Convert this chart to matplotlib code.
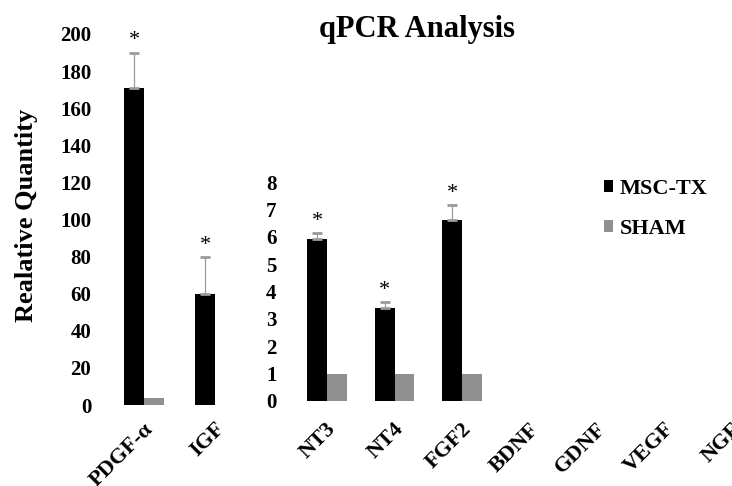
import matplotlib
matplotlib.use("Agg")
import matplotlib.pyplot as plt
import matplotlib.transforms as mtransforms
from matplotlib.patches import Patch
import numpy as np

# growth factor panel on the 0-200 scale
LEFT_GENES = ["PDGF-α", "IGF"]
LEFT_MSC = [171, 60]
LEFT_SHAM = [4, 0]
LEFT_ERR = [19, 20]
LEFT_SIG = [True, True]
LEFT_TICKS = list(range(0, 201, 20))

# neurotrophic factor panel on the 0-8 scale
RIGHT_GENES = ["NT3", "NT4", "FGF2", "BDNF", "GDNF", "VEGF", "NGF"]
RIGHT_MSC = [5.9, 3.4, 6.6, 0, 0, 0, 0]
RIGHT_SHAM = [1, 1, 1, 0, 0, 0, 0]
RIGHT_ERR = [0.25, 0.2, 0.55, 0, 0, 0, 0]
RIGHT_SIG = [True, True, True, False, False, False, False]
RIGHT_TICKS = list(range(0, 9))

SERIES = ["MSC-TX", "SHAM"]
BLACK = "#000000"
GRAY = "#8f8f8f"

FIG_W, FIG_H = 732, 486

plt.rcParams["font.family"] = ["Liberation Serif", "DejaVu Serif"]
plt.rcParams["font.weight"] = "bold"


def rect(x0, y_top, x1, y_bottom):
    # pixel box -> figure fraction [left, bottom, width, height]
    return [x0 / FIG_W, 1 - y_bottom / FIG_H, (x1 - x0) / FIG_W, (y_bottom - y_top) / FIG_H]


def draw_panel(ax, genes, msc, sham, err, sig, ticks, width, label_pad):
    x = np.arange(len(genes))
    msc = np.array(msc, dtype=float)
    err = np.array(err, dtype=float)

    ax.bar(x - width / 2, msc, width, color=BLACK, zorder=2)
    ax.bar(x + width / 2, sham, width, color=GRAY, zorder=2)

    has_err = err > 0
    eb = ax.errorbar(x[has_err] - width / 2, msc[has_err],
                     yerr=[np.zeros(has_err.sum()), err[has_err]],
                     fmt="none", ecolor="#9a9a9a", elinewidth=0.9,
                     capsize=3.5, capthick=2, zorder=3)
    for cap in eb[1]:
        cap.set_color(BLACK)

    for xi, m, e, s in zip(x, msc, err, sig):
        if s:
            ax.annotate("*", (xi - width / 2, m + e), xytext=(0, 1.5),
                        textcoords="offset points", ha="center", va="bottom",
                        fontsize=16, fontweight="normal")

    ax.set_ylim(ticks[0], ticks[-1])
    ax.set_yticks(ticks)
    ax.set_xticks(x)
    ax.set_xticklabels(genes, rotation=45, ha="right", rotation_mode="anchor")
    ax.tick_params(axis="y", length=0, pad=12, labelsize=15)
    ax.tick_params(axis="x", length=0, pad=label_pad, labelsize=16)

    shift = mtransforms.ScaledTranslation(-1 / 100, 0, ax.figure.dpi_scale_trans)
    for lbl in ax.get_xticklabels():
        lbl.set_transform(lbl.get_transform() + shift)

    for sp in ax.spines.values():
        sp.set_visible(False)
    ax.patch.set_visible(False)


fig = plt.figure(figsize=(FIG_W / 100, FIG_H / 100), dpi=100)

ax1 = fig.add_axes(rect(108, 34, 250, 405))
ax1.set_xlim(-0.507, 1.49)
draw_panel(ax1, LEFT_GENES, LEFT_MSC, LEFT_SHAM, LEFT_ERR, LEFT_SIG,
           LEFT_TICKS, 0.28, 10)

ax2 = fig.add_axes(rect(293, 182, 732, 401))
ax2.set_xlim(-0.504, 6.0)
draw_panel(ax2, RIGHT_GENES, RIGHT_MSC, RIGHT_SHAM, RIGHT_ERR, RIGHT_SIG,
           RIGHT_TICKS, 0.29, 13)

fig.text(417 / FIG_W, 1 - 37 / FIG_H, "qPCR Analysis", ha="center",
         va="baseline", fontsize=22, fontweight="bold")
fig.text(27 / FIG_W, 1 - 215 / FIG_H, "Realative Quantity", rotation=90,
         ha="center", va="center", fontsize=19, fontweight="bold")

handles = [Patch(facecolor=BLACK), Patch(facecolor=GRAY)]
fig.legend(handles, SERIES, loc="upper left",
           bbox_to_anchor=(604 / FIG_W, 1 - 179 / FIG_H), frameon=False,
           fontsize=16, handlelength=0.42, handleheight=0.42,
           handletextpad=0.3, labelspacing=0.9, borderpad=0, borderaxespad=0)

fig.savefig("out.png", dpi=100)
